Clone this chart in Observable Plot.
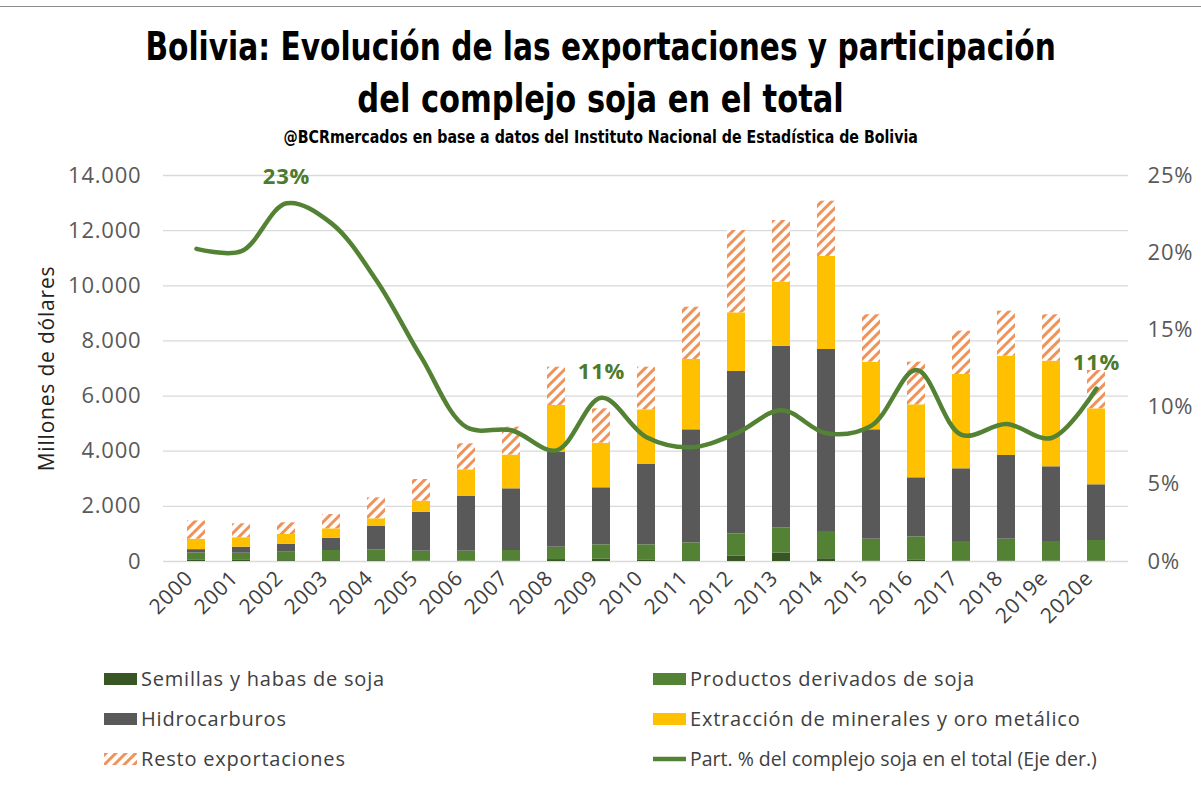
<!DOCTYPE html>
<html><head><meta charset="utf-8">
<script src="https://cdn.jsdelivr.net/npm/d3@7"></script>
<script src="https://cdn.jsdelivr.net/npm/@observablehq/plot@0.6"></script>
<style>
body{margin:0;background:#fff;}
#wrap{position:relative;width:1201px;height:788px;overflow:hidden;background:#fff;}
#topline{position:absolute;left:0;top:6px;width:1201px;height:0;border-top:1.5px solid #8c8c8c;}
.title{position:absolute;left:0;width:1201px;text-align:center;font-family:"Liberation Sans Narrow","DejaVu Sans Condensed",sans-serif;font-weight:bold;color:#000;white-space:nowrap;}
.title span{display:inline-block;transform-origin:center;}
#t1{top:24px;font-size:39px;}
#t1 span{transform:scaleX(0.845);}
#t2{top:76px;font-size:39px;}
#t2 span{transform:scaleX(0.87);}
#sub{top:126px;font-size:18px;}
#sub span{transform:scaleX(0.877);}
#chart{position:absolute;left:0;top:150px;}
.leg{position:absolute;font-family:"Open Sans",sans-serif;font-size:20px;letter-spacing:0.8px;color:#404040;white-space:nowrap;display:flex;align-items:center;}
.sw{display:inline-block;width:33px;height:12px;margin-right:4px;}
</style></head>
<body>
<div id="wrap">
<div id="topline"></div>
<div class="title" id="t1"><span>Bolivia: Evolución de las exportaciones y participación</span></div>
<div class="title" id="t2"><span>del complejo soja en el total</span></div>
<div class="title" id="sub"><span>@BCRmercados en base a datos del Instituto Nacional de Estadística de Bolivia</span></div>
<div id="chart"></div>
<div id="legend"></div>
</div>
<script>
const years = ["2000","2001","2002","2003","2004","2005","2006","2007","2008","2009","2010","2011","2012","2013","2014","2015","2016","2017","2018","2019e","2020e"];
const semillas      = [60, 40, 30, 30, 30, 20, 15, 20, 70, 80, 40, 30, 190, 310, 100, 20, 60, 20, 20, 15, 20];
const productos     = [250, 261, 307, 369, 394, 354, 359, 379, 449, 524, 564, 647, 813, 912, 988, 790, 834, 705, 790, 710, 742];
const hidrocarburos = [120, 218, 291, 447, 845, 1415, 1996, 2237, 3445, 2069, 2914, 4099, 5888, 6588, 6601, 3966, 2141, 2637, 3035, 2710, 2020];
const minerales     = [377, 341, 351, 339, 279, 399, 955, 1224, 1694, 1618, 1984, 2551, 2128, 2321, 3373, 2453, 2648, 3420, 3601, 3830, 2756];
const resto         = [664, 507, 424, 520, 762, 786, 943, 1011, 1390, 1247, 1546, 1897, 2986, 2237, 2006, 1719, 1546, 1573, 1634, 1683, 1390];
const participacion = [20.25, 20.1, 23.2, 21.9, 18.2, 13.2, 8.7, 8.5, 7.2, 10.6, 8.05, 7.4, 8.3, 9.8, 8.3, 8.8, 12.4, 8.2, 8.9, 8.0, 11.2];
const seriesNames = ["Semillas y habas de soja","Productos derivados de soja","Hidrocarburos","Extracción de minerales y oro metálico","Resto exportaciones"];
const seriesColors = ["#375623","#548235","#595959","#FFC000","url(#hatch)"];
const lineName = "Part. % del complejo soja en el total (Eje der.)";
const labelYears = ["2002","2009","2020e"];
const leftTicks = [0,2000,4000,6000,8000,10000,12000,14000];
const rightTicks = [0,5,10,15,20,25];

const pctScale = 14000/25;
const seriesValues = [semillas, productos, hidrocarburos, minerales, resto];
const barData = seriesNames.flatMap((s,i)=>years.map((y,j)=>({year:y, series:s, value:seriesValues[i][j]})));
const lineData = years.map((y,j)=>({year:y, pct:participacion[j]}));

const esFmt = d3.formatLocale({decimal:",", thousands:".", grouping:[3], currency:["",""]}).format(",");

const svg = Plot.plot({
  width: 1201, height: 491,
  marginLeft: 163, marginRight: 73, marginTop: 25, marginBottom: 80,
  style: {fontFamily: "'Open Sans', sans-serif", fontSize: "22px", color: "#595959", background: "transparent", letterSpacing: "0.8px"},
  x: {domain: years, type: "band", paddingInner: 0.6, paddingOuter: 0.3},
  y: {domain: [0, 14000]},
  color: {domain: seriesNames, range: seriesColors},
  marks: [
    Plot.gridY(leftTicks, {stroke: "#d9d9d9", strokeOpacity: 1, strokeWidth: 1.3}),
    Plot.barY(barData, {x: "year", y: "value", fill: "series", order: seriesNames}),
    Plot.line(lineData, {x: "year", y: d => d.pct * pctScale, curve: "catmull-rom", stroke: "#548235", strokeWidth: 4.5}),
    Plot.text(lineData.filter(d => labelYears.includes(d.year)), {x: "year", y: d => d.pct * pctScale, text: d => Math.round(d.pct) + "%", dy: -26, fill: "#4E7A2C", fontWeight: "bold", fontSize: 22}),
    Plot.axisY(leftTicks, {anchor: "left", tickSize: 0, tickPadding: 22, tickFormat: esFmt, label: "Millones de dólares", labelAnchor: "center", labelOffset: 124, labelArrow: "none", fill: "#595959"}),
    Plot.axisY(rightTicks.map(d => d * pctScale), {anchor: "right", tickSize: 0, tickPadding: 19, tickFormat: d => Math.round(d / pctScale) + "%", label: null, fill: "#595959"}),
    Plot.axisX({tickSize: 0, tickPadding: 8, tickRotate: -45, label: null, fill: "#404040", fontSize: 21, dx: -7, dy: 5})
  ]
});

const defs = d3.select(svg).insert("defs", ":first-child");
const pat = defs.append("pattern").attr("id","hatch").attr("patternUnits","userSpaceOnUse")
  .attr("width",7).attr("height",7).attr("patternTransform","rotate(45)");
pat.append("rect").attr("width",7).attr("height",7).attr("fill","#fff");
pat.append("rect").attr("width",3).attr("height",7).attr("fill","#F0935A");
d3.select(svg).selectAll("text").filter(function(){return this.textContent === "Millones de dólares";}).attr("fill","#222").style("font-size","21px");
document.getElementById("chart").appendChild(svg);

// Legend
const legend = document.getElementById("legend");
const legendItems = [
  {name: seriesNames[0], color: seriesColors[0], left: 104, top: 665},
  {name: seriesNames[1], color: seriesColors[1], left: 653, top: 665},
  {name: seriesNames[2], color: seriesColors[2], left: 104, top: 705},
  {name: seriesNames[3], color: seriesColors[3], left: 653, top: 705},
  {name: seriesNames[4], color: seriesColors[4], left: 104, top: 745},
  {name: lineName, color: "line", left: 653, top: 745}
];
legendItems.forEach(it => {
  const div = document.createElement("div");
  div.className = "leg";
  div.style.left = it.left + "px";
  div.style.top = it.top + "px";
  if (it.color === "line") { div.style.letterSpacing = "0px"; div.style.fontSize = "19.5px"; }
  let sw;
  if (it.color === "line") {
    sw = '<svg width="33" height="12" style="margin-right:4px"><line x1="0" x2="33" y1="6" y2="6" stroke="#548235" stroke-width="4.5"/></svg>';
  } else if (it.color.startsWith("url")) {
    sw = '<svg width="33" height="12" style="margin-right:4px"><defs><pattern id="hatch2" patternUnits="userSpaceOnUse" width="7" height="7" patternTransform="rotate(45)"><rect width="7" height="7" fill="#fff"/><rect width="3" height="7" fill="#F0935A"/></pattern></defs><rect width="33" height="12" fill="url(#hatch2)"/></svg>';
  } else {
    sw = '<span class="sw" style="background:' + it.color + '"></span>';
  }
  div.innerHTML = sw + '<span>' + it.name + '</span>';
  legend.appendChild(div);
});
</script>
</body></html>
